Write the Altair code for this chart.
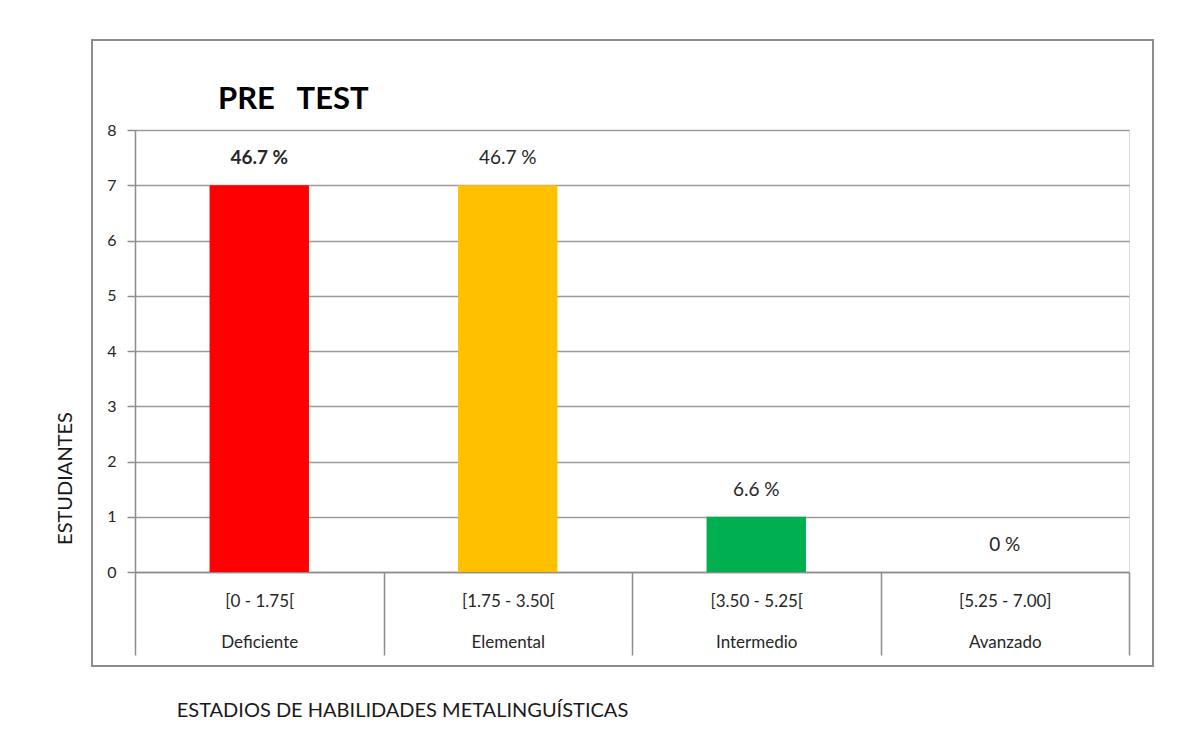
import altair as alt
import pandas as pd

categories = ["[0 - 1.75[|Deficiente", "[1.75 - 3.50[|Elemental",
              "[3.50 - 5.25[|Intermedio", "[5.25 - 7.00]|Avanzado"]
students = [7, 7, 1, 0]
pct_labels = ["46.7 %", "46.7 %", "6.6 %", "0 %"]
label_bold = [True, False, False, False]
bar_colors = ["#FF0000", "#FFC000", "#00B050", "#5B9BD5"]
chart_title = "PRE\u00a0\u00a0 TEST"

df = pd.DataFrame({
    "cat": categories,
    "n": students,
    "lab": pct_labels,
    "bold": label_bold,
    "color": bar_colors,
})

FONT = "Lato"
W, H = 994, 442

x_enc = alt.X(
    "cat:N", sort=None,
    scale=alt.Scale(paddingInner=0, paddingOuter=0),
    axis=alt.Axis(
        title="ESTADIOS DE HABILIDADES METALINGUÍSTICAS",
        titleX=267, titleY=138, titleBaseline="middle", titleAlign="center",
        titleFont=FONT, titleFontSize=20, titleFontWeight="normal", titleColor="#1a1a1a",
        labelExpr="split(datum.label, '|')", labelAngle=0,
        labelFont=FONT, labelFontSize=17, labelColor="#262626",
        labelLineHeight=41, labelPadding=-62, labelBaseline="top",
        tickBand="extent", tickSize=83, tickColor="#8c8c8c", tickWidth=1.5,
        domainColor="#8c8c8c", domainWidth=1.5, grid=False,
    ),
)
y_enc = alt.Y(
    "n:Q",
    scale=alt.Scale(domain=[0, 8], nice=False),
    axis=alt.Axis(
        values=list(range(0, 9)), format="d", title="ESTUDIANTES",
        titleX=-70, titleY=348, titleAngle=270, titleBaseline="middle", titleAlign="center",
        titleFont=FONT, titleFontSize=20, titleFontWeight="normal", titleColor="#1a1a1a",
        labelFont=FONT, labelFontSize=16, labelColor="#262626", labelPadding=11,
        tickSize=8, tickColor="#8c8c8c", tickWidth=1.5,
        domainColor="#8c8c8c", domainWidth=1.5,
        grid=True, gridColor="#9a9a9a", gridWidth=1.5,
    ),
)

frame = alt.Chart(df).mark_rect(fill=None, stroke="#8c8c8c", strokeWidth=1.5).encode(
    x=alt.value(-43), x2=alt.value(1018), y=alt.value(-90), y2=alt.value(536)
)

title = alt.Chart(pd.DataFrame({"t": [chart_title]})).mark_text(
    align="left", baseline="middle", font=FONT, fontSize=31, fontWeight="bold", color="black"
).encode(x=alt.value(83), y=alt.value(-30), text="t:N")

bars = alt.Chart(df).mark_bar(width=alt.RelativeBandSize(0.4)).encode(
    x=x_enc, y=y_enc,
    color=alt.Color("color:N", scale=None),
)

labels_bold = alt.Chart(df).transform_filter("datum.bold").mark_text(
    dy=-27, font=FONT, fontSize=19, fontWeight="bold", color="#262626"
).encode(x=alt.X("cat:N", sort=None), y="n:Q", text="lab:N")

labels_norm = alt.Chart(df).transform_filter("!datum.bold").mark_text(
    dy=-27, font=FONT, fontSize=19, fontWeight="normal", color="#262626"
).encode(x=alt.X("cat:N", sort=None), y="n:Q", text="lab:N")

chart = alt.layer(frame, title, bars, labels_bold, labels_norm).properties(
    width=W, height=H,
    autosize=alt.AutoSizeParams(type="none"),
    padding={"left": 127, "top": 122, "right": 40, "bottom": 160},
).configure_view(stroke=None).configure(background="white")

chart.save("out.html", embed_options={"renderer": "svg", "actions": False})
